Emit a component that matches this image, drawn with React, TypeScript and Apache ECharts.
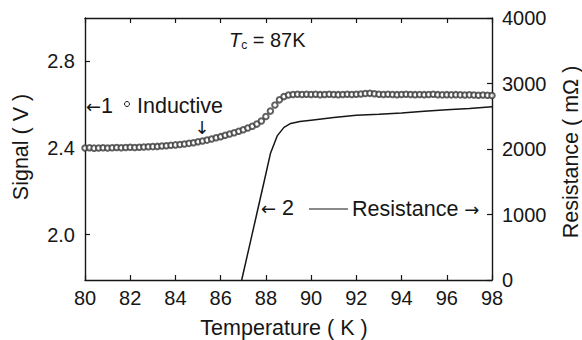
import React, { useEffect, useRef } from "react";
import * as echarts from "echarts";

// Temperature (K) axis ticks
const tempTicks = [80, 82, 84, 86, 88, 90, 92, 94, 96, 98];
const signalTicks = [2.0, 2.4, 2.8];
const resistanceTicks = [0, 1000, 2000, 3000, 4000];

// Inductive signal (V), circles, one every 0.2 K from 80 to 98 K
const inductiveTemp = [
  80.0, 80.2, 80.4, 80.6, 80.8, 81.0, 81.2, 81.4, 81.6, 81.8,
  82.0, 82.2, 82.4, 82.6, 82.8, 83.0, 83.2, 83.4, 83.6, 83.8,
  84.0, 84.2, 84.4, 84.6, 84.8, 85.0, 85.2, 85.4, 85.6, 85.8,
  86.0, 86.2, 86.4, 86.6, 86.8, 87.0, 87.2, 87.4, 87.6, 87.8,
  88.0, 88.2, 88.4, 88.6, 88.8, 89.0, 89.2, 89.4, 89.6, 89.8,
  90.0, 90.2, 90.4, 90.6, 90.8, 91.0, 91.2, 91.4, 91.6, 91.8,
  92.0, 92.2, 92.4, 92.6, 92.8, 93.0, 93.2, 93.4, 93.6, 93.8,
  94.0, 94.2, 94.4, 94.6, 94.8, 95.0, 95.2, 95.4, 95.6, 95.8,
  96.0, 96.2, 96.4, 96.6, 96.8, 97.0, 97.2, 97.4, 97.6, 97.8,
  98.0,
];
const inductiveSignal = [
  2.400, 2.401, 2.399, 2.400, 2.401, 2.400, 2.401, 2.402, 2.401, 2.402,
  2.403, 2.402, 2.403, 2.404, 2.405, 2.406, 2.407, 2.409, 2.410, 2.412,
  2.414, 2.416, 2.418, 2.421, 2.424, 2.428, 2.432, 2.436, 2.441, 2.447,
  2.452, 2.458, 2.464, 2.470, 2.477, 2.484, 2.492, 2.500, 2.510, 2.524,
  2.545, 2.570, 2.598, 2.622, 2.637, 2.644, 2.647, 2.648, 2.647, 2.648,
  2.647, 2.648, 2.646, 2.647, 2.648, 2.647, 2.646, 2.647, 2.648, 2.647,
  2.648, 2.649, 2.651, 2.652, 2.650, 2.648, 2.647, 2.648, 2.647, 2.646,
  2.647, 2.648, 2.647, 2.646, 2.647, 2.646, 2.647, 2.648, 2.646, 2.645,
  2.646, 2.645, 2.646, 2.645, 2.644, 2.645, 2.644, 2.643, 2.644, 2.643,
  2.642,
];

// Resistance (mΩ), solid line
const resistanceTemp = [
  86.93, 87.3, 87.6, 87.9, 88.2, 88.5, 88.8, 89.1, 89.5, 90.0,
  91.0, 92.0, 93.0, 94.0, 95.0, 96.0, 97.0, 98.0,
];
const resistanceValue = [
  0, 560, 1015, 1470, 1930, 2200, 2330, 2390, 2420, 2440,
  2480, 2515, 2530, 2550, 2575, 2600, 2620, 2646,
];

const FONT = "'Liberation Sans', Arial, Helvetica, sans-serif";
const ARROW_FONT = "'DejaVu Sans', sans-serif";
const INK = "#161616";
const WORD = 21.5;

export default function App() {
  const ref = useRef<HTMLDivElement>(null);

  useEffect(() => {
    if (!ref.current) return;
    const chart = echarts.init(ref.current, undefined, { renderer: "svg" });

    const axisLine = { show: true, lineStyle: { color: INK, width: 1.4 } };
    const tick = { show: true, inside: true, length: 5, lineStyle: { color: INK, width: 1.2 } };
    const label = { fontSize: 20, color: INK, fontFamily: FONT };

    const richBase = {
      t: { fontSize: WORD, fontFamily: FONT, fill: INK },
      a: { fontSize: 18, fontFamily: ARROW_FONT, fill: INK },
    };

    const text = (x: number, y: number, t: string, extra: any = {}) => ({
      type: "text",
      x,
      y,
      style: {
        text: t,
        fontSize: WORD,
        fontFamily: FONT,
        fill: INK,
        align: "left",
        verticalAlign: "middle",
        rich: richBase,
        ...extra,
      },
    });

    chart.setOption({
      animation: false,
      backgroundColor: "#ffffff",
      grid: { left: 85, right: 90, top: 18, bottom: 60 },
      xAxis: [
        {
          type: "value",
          min: tempTicks[0],
          max: tempTicks[tempTicks.length - 1],
          interval: 2,
          position: "bottom",
          axisLine,
          axisTick: tick,
          axisLabel: { ...label, margin: 8 },
          splitLine: { show: false },
        },
        {
          type: "value",
          min: tempTicks[0],
          max: tempTicks[tempTicks.length - 1],
          interval: 2,
          position: "top",
          axisLine,
          axisTick: tick,
          axisLabel: { show: false },
          splitLine: { show: false },
        },
      ],
      yAxis: [
        {
          type: "value",
          min: 1.79,
          max: 3.0,
          position: "left",
          axisLine,
          axisTick: { ...tick, customValues: signalTicks },
          axisLabel: {
            ...label,
            margin: 10,
            customValues: signalTicks,
            formatter: (v: number) => v.toFixed(1),
          },
          splitLine: { show: false },
        },
        {
          type: "value",
          min: resistanceTicks[0],
          max: resistanceTicks[resistanceTicks.length - 1],
          interval: 1000,
          position: "right",
          axisLine,
          axisTick: tick,
          axisLabel: { ...label, margin: 10, formatter: (v: number) => String(v) },
          splitLine: { show: false },
        },
      ],
      series: [
        {
          name: "Inductive",
          type: "scatter",
          xAxisIndex: 0,
          yAxisIndex: 0,
          symbol: "emptyCircle",
          symbolSize: 5.5,
          z: 3,
          itemStyle: { color: "#3a3a3a", borderColor: "#3a3a3a", borderWidth: 1 },
          data: inductiveTemp.map((t, i) => [t, inductiveSignal[i]]),
        },
        {
          name: "Resistance",
          type: "line",
          xAxisIndex: 0,
          yAxisIndex: 1,
          showSymbol: false,
          lineStyle: { color: INK, width: 1.5 },
          data: resistanceTemp.map((t, i) => [t, resistanceValue[i]]),
        },
      ],
      graphic: [
        text(284, 328, "Temperature ( K )", { align: "center" }),
        {
          type: "text",
          x: 21,
          y: 147,
          rotation: Math.PI / 2,
          style: {
            text: "Signal ( V )",
            fontSize: WORD,
            fontFamily: FONT,
            fill: INK,
            align: "center",
            verticalAlign: "middle",
          },
        },
        {
          type: "text",
          x: 571,
          y: 152,
          rotation: Math.PI / 2,
          style: {
            text: "Resistance ( mΩ )",
            fontSize: WORD,
            fontFamily: FONT,
            fill: INK,
            align: "center",
            verticalAlign: "middle",
          },
        },
        {
          type: "text",
          x: 229,
          y: 40,
          style: {
            text: "{i|T}{s|c}{n| = 87K}",
            fontFamily: FONT,
            fill: INK,
            align: "left",
            verticalAlign: "middle",
            rich: {
              i: { fontSize: 20, fontStyle: "italic", fontFamily: FONT, fill: INK },
              s: { fontSize: 12, fontFamily: FONT, fill: INK, padding: [10, 0, 0, 0] },
              n: { fontSize: 20, fontFamily: FONT, fill: INK },
            },
          },
        },
        text(86, 106, "{a|←}{t|1}"),
        {
          type: "circle",
          shape: { cx: 127, cy: 104, r: 2.5 },
          style: { fill: "#fff", stroke: INK, lineWidth: 1 },
        },
        text(137, 106, "Inductive"),
        text(202, 127, "{a|↓}", { align: "center" }),
        text(261, 208, "{a|←}{t| 2}"),
        {
          type: "line",
          shape: { x1: 309, y1: 209, x2: 348, y2: 209 },
          style: { stroke: INK, lineWidth: 1.2 },
        },
        text(352, 209, "{t|Resistance }{a|→}"),
      ],
    });

    return () => chart.dispose();
  }, []);

  return (
    <div
      ref={ref}
      style={{ width: 582, height: 340, position: "absolute", left: 0, top: 0 }}
    />
  );
}
